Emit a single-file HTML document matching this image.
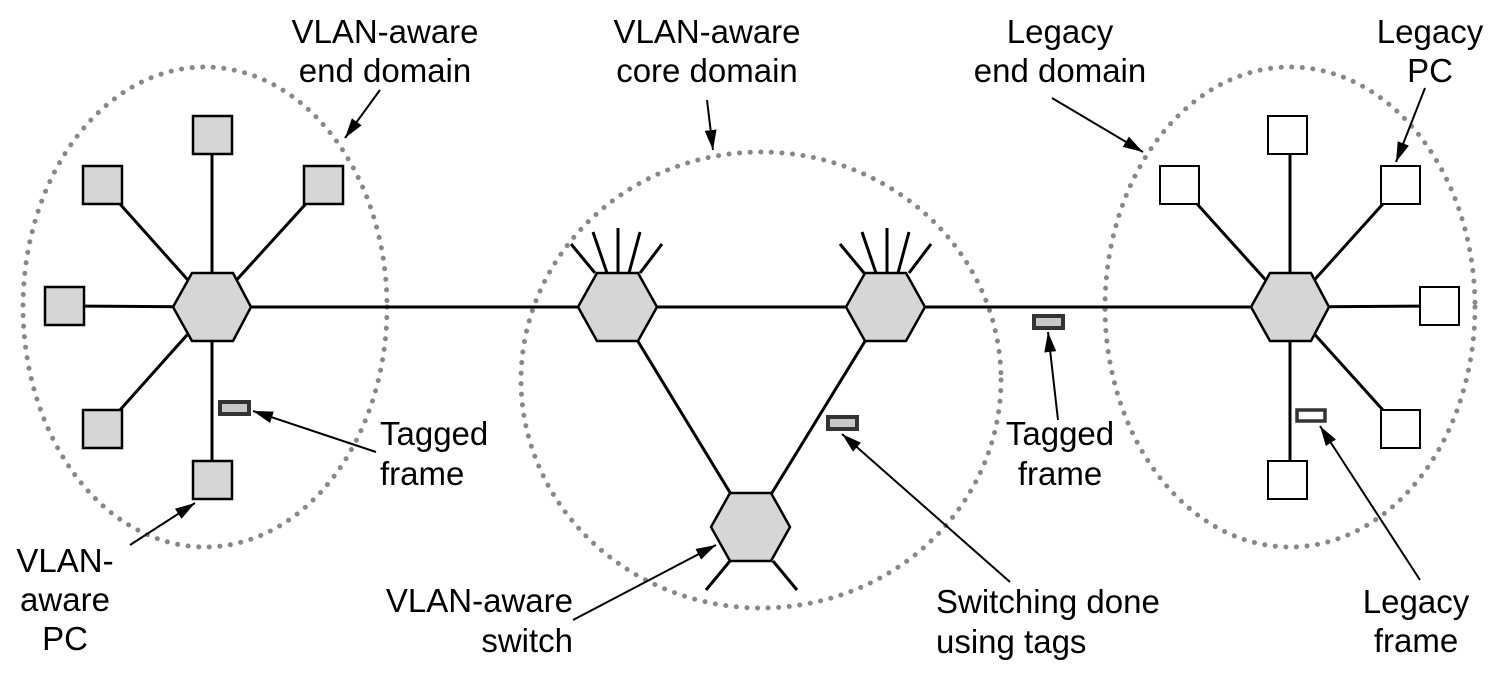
<!DOCTYPE html>
<html><head><meta charset="utf-8"><style>
html,body{margin:0;padding:0;background:#fff;}
svg{display:block;}
text{font-family:"Liberation Sans",Arial,sans-serif;font-size:33px;fill:#000;}
</style></head><body>
<svg width="1500" height="673" viewBox="0 0 1500 673" xmlns="http://www.w3.org/2000/svg">
<defs>
<marker id="ah2" viewBox="0 0 20 12" refX="20" refY="6" markerWidth="20" markerHeight="12" markerUnits="userSpaceOnUse" orient="auto"><path d="M0,0 L20,6 L0,12 z" fill="#000"/></marker>
</defs>
<g fill="none" stroke="#888" stroke-width="5" stroke-dasharray="0.1 10.5" stroke-linecap="round">
<ellipse cx="205" cy="307" rx="182" ry="240"/>
<ellipse cx="761" cy="380" rx="240" ry="228"/>
<ellipse cx="1290" cy="307" rx="185" ry="240"/>
</g>
<g stroke="#000" stroke-width="3" fill="none">
<line x1="212" y1="135" x2="212" y2="480"/>
<line x1="103" y1="185" x2="212" y2="307"/>
<line x1="323" y1="185" x2="212" y2="307"/>
<line x1="64" y1="306" x2="212" y2="307"/>
<line x1="103" y1="429" x2="212" y2="307"/>
<line x1="212" y1="307" x2="1290" y2="307"/>
<line x1="617" y1="307" x2="751" y2="527"/>
<line x1="886" y1="307" x2="751" y2="527"/>
<line x1="595" y1="273" x2="571" y2="244"/><line x1="607" y1="273" x2="593" y2="232"/><line x1="618" y1="273" x2="618" y2="228"/><line x1="629" y1="273" x2="640" y2="232"/><line x1="640" y1="273" x2="662" y2="244"/>
<line x1="864" y1="273" x2="840" y2="244"/><line x1="876" y1="273" x2="862" y2="232"/><line x1="887" y1="273" x2="887" y2="228"/><line x1="898" y1="273" x2="909" y2="232"/><line x1="909" y1="273" x2="931" y2="244"/>
<line x1="730" y1="561" x2="706" y2="590"/><line x1="773" y1="561" x2="797" y2="590"/>
<line x1="1290" y1="135" x2="1290" y2="480"/>
<line x1="1180" y1="185" x2="1290" y2="307"/>
<line x1="1400" y1="185" x2="1290" y2="307"/>
<line x1="1439" y1="306" x2="1290" y2="307"/>
<line x1="1400" y1="429" x2="1290" y2="307"/>
</g>
<g stroke="#000" stroke-width="2.5" fill="#d6d6d6">
<polygon points="173,307 192,273 233,273 251,307 233,341 192,341"/>
<polygon points="578,307 597,273 638,273 657,307 638,341 597,341"/>
<polygon points="846,307 865,273 906,273 925,307 906,341 865,341"/>
<polygon points="711,527 730,493 771,493 790,527 771,561 730,561"/>
<polygon points="1251,307 1270,273 1311,273 1329,307 1311,341 1270,341"/>
<rect x="193" y="116" width="39" height="38"/>
<rect x="83" y="166" width="39" height="38"/>
<rect x="304" y="166" width="39" height="38"/>
<rect x="45" y="287" width="39" height="38"/>
<rect x="83" y="410" width="39" height="38"/>
<rect x="193" y="461" width="39" height="38"/>
</g>
<g stroke="#000" stroke-width="2" fill="#fff">
<rect x="1268" y="116" width="39" height="38"/>
<rect x="1160" y="166" width="39" height="38"/>
<rect x="1381" y="166" width="39" height="38"/>
<rect x="1420" y="287" width="39" height="38"/>
<rect x="1381" y="410" width="39" height="38"/>
<rect x="1268" y="461" width="39" height="38"/>
</g>
<g stroke="#333" stroke-width="4" fill="#c8c8c8">
<rect x="220" y="402" width="29" height="12"/>
<rect x="828" y="417" width="29" height="12"/>
<rect x="1034" y="316" width="29" height="12"/>
<rect x="1297" y="410" width="28" height="11" fill="#fff" stroke-width="3.5"/>
</g>
<g stroke="#000" stroke-width="2" marker-end="url(#ah2)">
<line x1="380" y1="90" x2="345" y2="138"/>
<line x1="707" y1="100" x2="713" y2="150"/>
<line x1="1052" y1="98" x2="1143" y2="152"/>
<line x1="1425" y1="88" x2="1396" y2="162"/>
<line x1="376" y1="452" x2="253" y2="411"/>
<line x1="130" y1="545" x2="195" y2="503"/>
<line x1="573" y1="620" x2="716" y2="545"/>
<line x1="1010" y1="582" x2="842" y2="434"/>
<line x1="1058" y1="420" x2="1048" y2="332"/>
<line x1="1420" y1="580" x2="1320" y2="426"/>
</g>
<g text-anchor="middle">
<text x="385" y="43">VLAN-aware</text><text x="385" y="82">end domain</text>
<text x="707" y="43">VLAN-aware</text><text x="707" y="82">core domain</text>
<text x="1060" y="43">Legacy</text><text x="1060" y="82">end domain</text>
<text x="1430" y="43">Legacy</text><text x="1430" y="82">PC</text>
<text x="1060" y="445">Tagged</text><text x="1060" y="485">frame</text>
<text x="65" y="572">VLAN-</text><text x="65" y="611">aware</text><text x="65" y="650">PC</text>
<text x="1416" y="613">Legacy</text><text x="1416" y="652">frame</text>
</g>
<g text-anchor="end">
<text x="573" y="612">VLAN-aware</text><text x="573" y="652">switch</text>
</g>
<text x="380" y="445">Tagged</text><text x="380" y="485">frame</text>
<text x="936" y="613">Switching done</text><text x="936" y="653">using tags</text>
</svg>
</body></html>
